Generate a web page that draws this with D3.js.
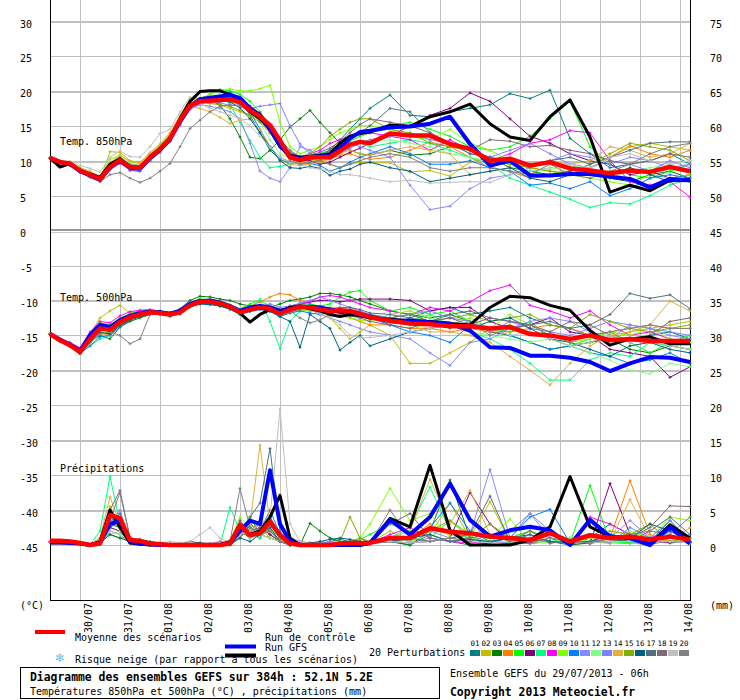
<!DOCTYPE html>
<html>
<head>
<meta charset="utf-8">
<script src="https://cdn.jsdelivr.net/npm/d3@7"></script>
<style>
body { margin: 0; background: #fff; }
text { font-family: "DejaVu Sans Mono", monospace; font-size: 10px; fill: #000; }
</style>
</head>
<body>
<svg id="chart" width="740" height="700"></svg>
<script>
// forecast hours: 6-hourly up to 192h, then 12-hourly
const hours = [0,6,12,18,24,30,36,42,48,54,60,66,72,78,84,90,96,102,108,114,120,126,132,138,144,150,156,162,168,174,180,186,192,
  204,216,228,240,252,264,276,288,300,312,324,336,348,360,372,384];
const dayHours = [18,42,66,90,114,138,162,186,210,234,258,282,306,330,354,378];
const dayLabels = ['30/07','31/07','01/08','02/08','03/08','04/08','05/08','06/08','07/08','08/08','09/08','10/08','11/08','12/08','13/08','14/08'];
const leftTicks = [30,25,20,15,10,5,0,-5,-10,-15,-20,-25,-30,-35,-40,-45];
const rightTicks = [75,70,65,60,55,50,45,40,35,30,25,20,15,10,5,0];
const pertLabels = ['01','02','03','04','05','06','07','08','09','10','11','12','13','14','15','16','17','18','19','20'];
const pertColors = ['#008080','#c0c000','#008000','#ff8000','#00ff00','#800080','#00ff80','#ff00ff','#80ff00','#0080ff',
  '#8888ff','#80ff80','#8080ff','#e0b040','#80b000','#006080','#507080','#806878','#c0c0c0','#808080'];

// Temp. 850hPa (°C)
const t850Mean = [10.4,9.8,9.6,8.6,8.0,7.4,9.1,10.1,9.1,9.0,10.5,11.7,13.2,15.8,17.9,18.5,18.6,18.7,18.8,18.4,17.2,16.3,15.1,12.9,10.5,10.1,10.5,10.5,10.5,11.4,12.3,12.7,12.5,
  13.9,13.6,13.6,12.4,11.7,10.0,10.3,9.3,9.8,8.9,8.6,8.2,8.6,8.4,9.1,8.5];
const t850Ctrl = [10.4,9.8,9.5,8.5,7.9,7.3,9.0,10.0,9.0,8.9,10.4,11.6,13.1,15.6,17.8,18.8,19.0,19.2,19.4,19.0,17.5,16.5,14.5,12.2,10.6,10.3,10.5,10.6,10.7,11.8,13.2,14.1,14.3,
  14.8,14.9,15.3,16.3,12.4,9.3,10.0,7.9,7.9,8.1,8.1,7.7,7.4,6.2,7.4,7.2];
const t850Gfs = [10.4,9.1,9.6,8.6,8.1,7.6,9.5,10.3,9.2,9.0,10.4,11.5,13.0,16.0,18.5,19.9,20.0,20.0,19.5,18.6,17.0,16.0,14.5,12.0,10.8,10.5,10.6,10.8,11.0,12.5,13.5,13.9,14.1,
  15.1,14.9,16.3,17.0,18.1,15.3,13.4,12.9,16.3,18.7,13.4,5.5,6.5,5.7,7.2,7.2];
const t850Pert = [
  [10.4,9.7,9.5,8.5,7.8,7.2,9.5,10.4,9.3,9.2,10.8,12.0,13.6,16.2,18.2,18.8,19.0,19.3,19.5,18.8,16.5,14.0,11.5,10.2,9.6,9.9,10.2,10.0,11.5,13.0,14.5,16.0,17.5,
   19.4,16.5,16.3,17.0,17.5,18.0,19.6,18.9,20.1,13.2,11.0,9.0,9.5,10.0,11.0,9.5],
  [10.4,9.9,9.7,8.8,8.3,7.3,11.3,11.2,10.0,9.8,11.0,12.2,13.8,16.5,18.8,19.0,18.5,18.0,17.5,17.0,16.5,16.0,15.0,13.0,11.0,10.5,10.2,9.8,9.5,9.0,9.5,9.8,9.7,
   9.7,8.4,8.6,7.8,9.8,10.5,9.5,9.0,8.5,8.5,9.5,10.5,12.0,12.5,12.0,11.5],
  [10.4,9.8,9.6,8.7,8.1,7.5,9.0,10.0,9.1,8.8,10.2,11.4,12.9,15.5,17.8,18.6,18.8,18.0,16.0,13.4,10.5,10.3,11.5,13.0,14.8,16.0,17.2,15.5,14.0,12.5,11.5,11.0,10.8,
   11.5,10.8,11.0,12.0,11.5,10.5,9.0,8.5,8.0,8.5,9.0,7.5,7.0,8.0,8.5,7.5],
  [10.4,9.8,9.7,8.9,8.2,7.6,9.4,10.3,9.3,9.2,10.6,11.9,13.5,15.9,17.8,18.4,18.6,18.8,18.5,18.0,17.5,16.0,14.0,12.0,10.5,9.8,9.8,10.0,10.2,10.8,11.0,10.5,10.2,
   10.5,11.5,12.7,12.0,10.5,9.0,8.5,7.5,7.8,8.0,9.0,10.5,12.2,11.0,10.5,11.5],
  [10.4,9.8,9.6,8.6,8.0,7.4,9.3,10.2,9.2,9.1,10.6,11.8,13.3,16.0,18.0,18.8,19.5,20.2,20.0,19.5,18.5,17.0,15.0,12.5,10.8,10.5,10.8,11.0,11.5,12.0,12.8,13.5,14.0,
   15.0,15.5,14.5,13.5,12.0,11.5,12.0,13.5,16.0,18.5,12.0,9.5,8.0,7.5,8.5,9.5],
  [10.4,9.7,9.4,8.4,7.8,7.2,9.0,9.8,8.6,8.5,10.0,11.2,12.8,15.4,17.6,18.4,18.7,19.0,19.3,18.6,17.8,16.8,15.2,13.0,11.0,10.2,10.0,9.5,9.8,10.5,11.2,11.8,12.5,
   13.5,15.0,16.5,17.5,19.7,18.5,16.0,13.5,12.5,11.0,10.0,9.5,8.0,8.5,7.5,8.0],
  [10.4,9.8,9.5,8.5,7.9,7.3,8.9,9.9,8.9,8.8,10.2,11.3,12.8,15.3,17.5,18.3,18.8,19.5,18.0,15.5,12.9,10.5,9.0,9.2,9.5,10.0,10.5,11.0,11.5,12.0,12.5,12.5,12.0,
   12.5,13.0,12.5,11.5,10.5,9.5,7.5,6.5,5.5,4.5,3.3,4.0,3.8,5.0,6.5,7.5],
  [10.4,9.8,9.6,8.7,8.1,7.7,9.4,10.4,9.4,9.3,10.8,12.0,13.5,16.0,18.0,18.7,19.0,19.2,19.5,18.9,17.8,16.5,15.0,12.8,11.0,10.5,11.0,11.5,12.5,13.0,13.5,13.8,14.0,
   13.5,13.0,11.5,13.0,11.5,10.0,11.0,12.5,13.0,14.3,14.0,10.0,7.0,6.5,7.0,4.8],
  [10.4,9.9,9.8,8.9,8.4,7.8,10.2,10.8,9.8,9.6,11.0,12.2,13.8,16.2,18.2,18.9,19.5,20.0,20.3,20.0,20.0,20.3,20.8,15.5,12.0,11.0,11.5,12.0,13.0,14.0,14.5,15.0,15.0,
   14.5,13.5,13.0,14.5,12.5,11.5,10.0,9.0,8.5,8.0,7.5,7.0,6.5,8.0,7.5,8.0],
  [10.4,9.7,9.4,8.4,7.8,7.2,8.8,9.7,8.8,8.7,10.1,11.3,12.8,15.2,17.4,18.2,18.6,19.2,19.8,19.0,17.0,14.5,12.0,10.5,9.8,9.5,9.6,9.3,8.5,9.0,9.8,10.5,11.0,
   12.0,11.0,9.5,9.5,10.0,9.0,8.5,6.5,6.8,6.0,7.0,5.0,6.0,7.5,8.0,7.5],
  [10.4,9.9,9.8,8.9,8.3,7.6,9.2,10.2,9.2,9.0,10.5,11.6,13.0,15.5,17.5,18.0,17.8,17.5,17.0,16.0,12.5,8.5,7.5,7.0,9.0,12.0,11.5,10.5,11.0,12.0,12.5,12.0,11.5,
   10.5,6.5,3.0,3.5,6.0,7.5,8.0,9.0,10.0,11.0,10.5,9.5,10.5,10.0,9.0,9.5],
  [10.4,9.8,9.7,8.8,8.2,7.5,9.6,10.6,9.6,9.4,10.8,12.1,13.6,16.1,18.2,18.6,18.9,19.4,19.0,18.2,17.0,15.5,13.0,11.0,10.3,10.0,10.4,10.8,11.0,11.6,12.0,12.5,12.8,
   13.0,12.5,12.0,11.0,10.5,10.0,9.5,8.5,8.8,9.2,9.0,7.5,8.5,9.0,9.5,10.0],
  [10.4,9.6,9.3,8.3,7.7,7.0,8.7,9.6,8.7,8.6,10.0,11.2,12.7,15.1,17.3,18.1,18.5,18.3,17.9,18.0,17.5,17.8,18.0,18.2,15.0,12.4,11.0,10.5,10.5,11.0,11.8,12.5,13.0,
   13.5,14.0,13.0,12.5,11.0,10.5,11.5,12.5,11.0,9.5,9.0,10.0,9.5,8.5,10.0,9.0],
  [10.4,9.9,9.8,9.0,8.5,7.8,9.8,10.8,9.9,9.7,11.2,12.4,14.0,16.4,17.8,17.5,17.0,16.2,15.3,15.8,16.0,14.5,12.0,10.0,9.5,9.3,9.5,9.8,10.3,11.0,11.5,11.0,10.8,
   11.5,12.0,11.5,11.0,8.0,8.5,9.0,9.5,10.0,9.5,10.0,12.0,11.5,10.5,11.0,12.5],
  [10.4,9.8,9.6,8.7,8.1,7.5,9.3,10.3,9.2,9.0,10.4,11.6,13.1,15.6,17.8,18.4,18.2,18.0,17.8,17.2,16.5,15.5,14.0,12.0,10.8,10.5,11.0,12.0,13.5,14.5,15.5,16.0,16.0,
   14.5,14.0,12.5,12.0,11.5,10.0,9.5,9.0,8.5,8.0,9.5,11.0,12.5,12.0,11.5,10.0],
  [10.4,9.7,9.5,8.5,7.9,7.3,9.0,10.0,9.0,8.9,10.3,11.5,13.0,15.4,17.6,18.4,18.6,18.6,18.4,17.6,16.0,14.0,12.0,10.0,9.0,8.9,9.2,8.9,7.9,8.5,8.8,9.5,9.8,
   9.0,8.5,7.0,7.5,8.0,8.5,9.0,7.5,7.0,8.0,8.5,8.0,9.0,8.0,7.0,7.0],
  [10.4,9.8,9.6,8.6,8.0,7.4,9.1,10.2,9.1,9.0,10.5,11.7,13.2,15.8,17.9,18.6,18.9,19.2,19.0,18.6,17.5,16.2,15.0,13.0,11.5,10.5,10.5,10.8,11.5,12.5,13.5,14.0,15.0,
   17.5,17.0,14.0,12.5,11.0,10.5,10.0,9.5,10.0,10.5,9.5,10.5,11.5,12.5,12.7,12.7],
  [10.4,9.9,9.7,8.8,8.2,7.6,9.4,10.4,9.4,9.3,10.8,11.9,13.4,15.9,17.9,18.5,18.6,18.8,18.7,18.2,17.0,15.8,14.8,12.8,11.2,10.6,10.8,11.2,11.8,12.8,14.0,15.2,16.0,
   15.5,15.0,14.0,12.5,11.5,13.0,12.8,12.0,12.2,11.5,11.0,10.0,9.5,10.0,11.0,10.5],
  [10.4,10.0,9.9,9.3,8.9,8.4,10.5,11.4,10.6,10.5,12.0,13.9,14.5,17.0,19.1,18.2,17.5,17.0,16.5,16.0,15.0,13.5,12.0,10.5,9.8,9.5,9.0,8.8,8.5,8.0,8.0,7.8,7.5,
   7.0,7.2,6.8,6.9,7.0,6.9,8.0,8.5,9.0,9.5,9.0,10.5,11.0,10.0,9.5,10.0],
  [10.4,9.8,9.5,8.4,7.6,7.0,8.0,8.3,7.5,6.9,7.5,8.5,9.6,12.0,14.6,15.8,17.0,17.8,18.0,17.8,17.0,16.0,14.5,12.0,10.0,9.5,9.8,10.0,9.5,9.0,9.5,10.0,10.5,
   11.0,10.5,9.0,8.5,9.0,9.0,8.5,8.0,9.5,8.0,7.5,8.5,9.5,11.0,12.0,12.5]
];

// Temp. 500hPa (°C)
const t500Mean = [-14.8,-15.7,-16.4,-17.4,-15.5,-14.0,-14.2,-13.1,-12.4,-12.0,-11.7,-11.8,-12.0,-11.7,-10.7,-10.2,-10.2,-10.4,-10.9,-11.7,-11.3,-11.0,-11.2,-11.9,-11.3,-10.9,-11.0,-11.3,-11.5,-11.4,-11.5,-11.9,-12.4,
  -12.9,-13.3,-13.4,-13.7,-13.7,-14.0,-13.8,-14.8,-15.0,-15.5,-15.0,-15.7,-15.5,-15.8,-15.8,-15.8];
const t500Ctrl = [-14.8,-15.6,-16.3,-17.2,-15.0,-13.5,-13.8,-12.8,-12.2,-11.8,-11.6,-11.7,-11.9,-11.5,-10.5,-10.1,-10.0,-10.3,-10.8,-11.5,-11.0,-10.8,-11.0,-11.5,-11.2,-10.9,-10.9,-11.0,-11.3,-11.6,-11.6,-12.0,-12.3,
  -12.9,-12.9,-13.1,-13.3,-14.3,-16.7,-16.8,-17.9,-17.9,-18.2,-18.8,-20.1,-19.0,-18.1,-18.2,-18.8];
const t500Gfs = [-14.8,-15.7,-16.3,-17.3,-15.4,-14.0,-14.0,-13.0,-12.3,-11.8,-11.6,-11.7,-11.9,-11.5,-10.5,-10.0,-10.2,-10.5,-11.0,-11.8,-13.1,-12.0,-11.3,-11.5,-11.0,-10.8,-11.2,-11.5,-12.0,-12.3,-12.0,-12.2,-12.5,
  -12.7,-12.9,-13.0,-13.3,-13.5,-11.0,-9.4,-9.6,-10.7,-11.4,-14.3,-16.4,-15.5,-15.2,-16.2,-16.2];
const t500Pert = [
  [-14.8,-15.6,-16.3,-17.3,-15.2,-13.6,-13.9,-12.8,-12.2,-11.8,-11.6,-11.7,-11.9,-11.5,-10.5,-10.0,-10.1,-10.5,-11.2,-12.0,-11.5,-11.0,-11.4,-12.2,-11.5,-11.0,-11.2,-11.5,-11.8,-11.5,-11.4,-11.8,-12.1,
   -13.5,-12.5,-11.5,-11.0,-12.0,-11.5,-11.0,-12.5,-13.5,-14.0,-15.0,-14.5,-16.0,-15.0,-14.5,-15.5],
  [-14.8,-15.7,-16.5,-17.5,-14.8,-12.5,-11.5,-10.7,-11.8,-11.5,-11.6,-11.8,-12.1,-11.9,-10.9,-10.4,-10.3,-10.5,-11.0,-11.6,-11.2,-11.0,-11.2,-12.0,-11.6,-11.3,-11.5,-11.2,-12.5,-14.0,-15.5,-14.5,-13.5,
   -15.0,-19.0,-19.0,-17.5,-16.0,-14.0,-13.5,-14.5,-15.5,-16.5,-16.0,-15.5,-14.5,-14.0,-13.5,-13.0],
  [-14.8,-15.7,-16.4,-17.4,-16.0,-15.0,-15.5,-13.8,-13.0,-12.5,-12.0,-12.0,-11.8,-11.2,-10.0,-9.4,-9.5,-9.8,-10.0,-10.5,-10.8,-10.9,-11.0,-10.5,-10.0,-9.8,-9.5,-9.0,-9.0,-9.2,-9.5,-10.0,-10.5,
   -11.5,-12.0,-12.5,-12.0,-13.0,-14.5,-15.0,-16.0,-17.0,-16.5,-16.0,-15.5,-17.0,-17.5,-16.5,-17.0],
  [-14.8,-15.7,-16.4,-17.3,-15.6,-14.2,-14.4,-13.3,-12.5,-12.1,-11.8,-11.9,-12.1,-11.6,-10.6,-10.1,-10.2,-10.5,-11.0,-11.5,-10.8,-10.2,-9.5,-9.0,-9.2,-10.0,-10.5,-11.0,-11.5,-12.0,-12.5,-13.0,-13.5,
   -13.5,-14.0,-14.0,-14.5,-14.0,-14.5,-14.5,-14.0,-13.5,-14.0,-15.0,-14.5,-14.0,-13.5,-14.0,-14.0],
  [-14.8,-15.6,-16.2,-17.1,-14.8,-13.2,-13.5,-12.5,-11.9,-11.6,-11.4,-11.5,-11.7,-11.3,-10.3,-9.8,-9.9,-10.1,-10.6,-11.2,-10.5,-10.0,-10.8,-11.2,-11.0,-10.5,-10.5,-10.8,-10.5,-9.5,-8.8,-8.6,-10.0,
   -11.5,-11.0,-12.0,-11.5,-13.0,-14.0,-14.5,-13.0,-15.5,-16.5,-15.5,-14.5,-16.0,-17.5,-16.0,-15.0],
  [-14.8,-15.7,-16.4,-17.5,-15.8,-14.5,-14.8,-13.4,-12.5,-12.0,-11.6,-11.8,-12.1,-11.8,-10.8,-10.3,-10.3,-10.6,-11.0,-11.7,-11.2,-10.8,-11.0,-11.5,-10.8,-10.5,-10.2,-10.0,-10.0,-10.2,-10.0,-9.8,-9.8,
   -9.8,-10.0,-11.5,-11.0,-11.0,-13.0,-14.0,-13.5,-12.5,-14.5,-15.0,-17.0,-17.5,-18.0,-21.0,-19.5],
  [-14.8,-15.8,-16.6,-17.5,-16.5,-15.5,-15.0,-13.5,-12.6,-12.1,-11.8,-11.9,-12.2,-11.8,-10.8,-10.3,-10.4,-10.8,-11.3,-12.0,-11.5,-9.8,-13.0,-16.9,-13.0,-11.5,-11.2,-11.5,-11.0,-11.2,-11.5,-11.8,-12.0,
   -12.5,-13.0,-12.0,-13.5,-14.5,-15.5,-17.0,-19.0,-21.4,-21.4,-18.5,-17.5,-18.0,-16.0,-16.5,-17.0],
  [-14.8,-15.5,-16.0,-16.8,-14.5,-13.0,-13.2,-12.2,-11.6,-11.4,-11.3,-11.5,-11.8,-11.4,-10.4,-10.0,-10.1,-10.3,-10.8,-11.4,-11.0,-10.8,-11.0,-11.6,-11.0,-10.5,-10.2,-9.5,-9.3,-9.5,-10.0,-10.5,-11.0,
   -11.5,-12.0,-11.0,-11.5,-10.2,-8.6,-7.8,-10.7,-11.5,-12.5,-11.5,-13.5,-15.0,-14.5,-15.5,-16.0],
  [-14.8,-15.7,-16.5,-17.5,-15.9,-14.5,-14.6,-13.4,-12.6,-12.2,-11.9,-12.0,-12.2,-11.9,-10.9,-10.4,-10.4,-10.6,-11.1,-11.8,-11.5,-11.2,-11.5,-12.2,-11.8,-11.4,-11.5,-11.8,-12.0,-12.2,-12.5,-12.8,-13.0,
   -12.0,-11.5,-12.5,-13.5,-12.5,-14.0,-12.0,-13.5,-14.5,-16.0,-15.5,-14.5,-15.0,-14.0,-15.5,-16.0],
  [-14.8,-15.8,-16.6,-17.6,-16.5,-15.2,-15.0,-13.8,-12.8,-12.3,-12.0,-12.0,-12.2,-11.9,-10.9,-10.5,-10.5,-10.8,-11.2,-11.9,-11.6,-11.3,-11.6,-12.3,-11.8,-11.5,-11.8,-12.0,-11.5,-11.8,-12.2,-12.0,-12.5,
   -13.5,-14.5,-15.0,-16.0,-13.5,-14.0,-15.0,-16.0,-17.0,-16.5,-17.5,-18.0,-19.0,-18.5,-17.5,-19.0],
  [-14.8,-15.6,-16.3,-17.3,-15.3,-13.8,-14.0,-13.0,-12.3,-11.9,-11.6,-11.7,-11.9,-11.5,-10.6,-10.1,-10.2,-10.4,-10.9,-11.6,-11.2,-10.9,-11.2,-11.8,-11.2,-10.8,-11.2,-12.0,-12.5,-13.0,-13.5,-14.0,-14.5,
   -15.0,-15.5,-17.5,-19.3,-16.0,-15.5,-14.0,-13.0,-12.5,-13.0,-14.5,-15.5,-13.5,-14.0,-15.0,-15.5],
  [-14.8,-15.7,-16.4,-17.3,-15.4,-13.9,-14.1,-13.0,-12.3,-11.9,-11.6,-11.7,-11.9,-11.6,-10.6,-10.1,-10.1,-10.3,-10.8,-11.6,-11.2,-10.9,-11.1,-11.8,-11.2,-10.9,-11.0,-11.2,-11.4,-11.3,-11.4,-11.8,-12.3,
   -13.0,-13.5,-14.0,-13.5,-14.5,-15.0,-15.5,-16.0,-15.5,-16.5,-17.5,-18.5,-20.0,-20.5,-19.0,-19.5],
  [-14.8,-15.7,-16.4,-17.4,-15.7,-14.2,-14.3,-13.2,-12.4,-12.0,-11.7,-11.8,-12.0,-11.6,-10.6,-10.1,-10.1,-10.3,-10.8,-11.5,-11.2,-10.8,-10.5,-11.0,-10.8,-10.4,-10.0,-9.5,-10.0,-10.5,-11.0,-11.5,-12.0,
   -12.5,-12.0,-11.5,-12.5,-13.0,-14.5,-13.0,-14.0,-14.5,-15.0,-14.0,-13.0,-13.5,-14.0,-14.5,-15.0],
  [-14.8,-15.8,-16.6,-17.6,-16.2,-14.8,-14.9,-13.6,-12.7,-12.2,-11.9,-12.0,-12.2,-11.8,-10.8,-10.3,-10.3,-10.5,-11.0,-11.7,-11.3,-11.0,-11.3,-12.0,-11.6,-11.2,-11.4,-11.6,-11.8,-11.7,-11.8,-12.2,-12.7,
   -13.0,-13.5,-14.5,-14.5,-15.0,-16.0,-18.0,-20.0,-22.1,-19.0,-16.5,-15.0,-14.5,-13.5,-10.1,-11.5],
  [-14.8,-15.6,-16.2,-17.2,-15.0,-13.4,-13.7,-12.7,-12.0,-11.7,-11.5,-11.6,-11.8,-11.4,-10.4,-9.9,-10.0,-10.2,-10.7,-11.4,-11.0,-10.7,-11.0,-11.5,-11.0,-10.6,-10.8,-11.0,-11.2,-11.5,-11.8,-12.0,-12.3,
   -12.5,-12.0,-13.0,-12.5,-12.0,-13.0,-12.5,-12.0,-13.5,-14.0,-12.0,-13.0,-14.0,-14.5,-14.0,-13.5],
  [-14.8,-15.7,-16.5,-17.6,-16.0,-14.6,-14.8,-13.6,-12.8,-12.3,-12.0,-12.0,-12.2,-11.9,-10.9,-10.5,-10.6,-10.8,-11.2,-11.9,-11.4,-11.2,-11.5,-12.3,-13.0,-16.7,-12.0,-13.0,-14.0,-17.1,-16.0,-15.0,-16.5,
   -15.5,-14.5,-14.0,-13.5,-14.0,-13.0,-12.5,-14.0,-15.5,-16.0,-17.0,-18.0,-16.5,-16.0,-17.0,-17.5],
  [-14.8,-15.6,-16.3,-17.2,-15.1,-13.5,-13.8,-12.9,-12.2,-11.8,-11.5,-11.6,-11.8,-11.4,-10.5,-10.0,-10.1,-10.3,-10.8,-11.5,-11.0,-10.7,-11.0,-11.6,-11.0,-10.7,-10.8,-11.0,-11.2,-11.0,-11.0,-11.3,-11.8,
   -12.0,-12.5,-13.0,-12.0,-11.5,-12.5,-13.0,-13.5,-13.0,-14.0,-13.5,-12.0,-9.0,-9.7,-9.2,-11.2],
  [-14.8,-15.7,-16.4,-17.3,-15.5,-14.0,-14.0,-13.0,-12.3,-11.9,-11.6,-11.8,-12.1,-11.7,-10.7,-10.2,-10.2,-10.4,-10.9,-11.6,-11.4,-11.2,-11.4,-12.0,-11.7,-11.2,-11.0,-11.2,-11.6,-11.8,-12.2,-12.5,-13.0,
   -13.5,-14.0,-13.0,-12.5,-13.5,-12.5,-13.0,-13.5,-14.5,-13.0,-13.5,-15.0,-16.0,-15.0,-13.0,-12.5],
  [-14.8,-15.7,-16.4,-17.3,-15.5,-14.1,-14.3,-13.2,-12.4,-12.0,-11.7,-11.8,-12.0,-11.6,-10.7,-10.2,-10.2,-10.4,-10.9,-11.6,-11.3,-11.0,-11.2,-11.9,-11.3,-11.0,-11.3,-11.8,-12.5,-13.5,-15.0,-15.3,-15.3,
   -15.0,-14.5,-14.0,-13.5,-13.0,-14.0,-15.0,-14.5,-15.5,-16.5,-16.0,-15.0,-16.0,-15.5,-16.5,-17.0],
  [-14.8,-15.6,-16.3,-17.3,-16.0,-14.8,-14.5,-15.0,-16.2,-15.5,-12.0,-11.9,-12.3,-11.9,-10.8,-10.3,-10.2,-10.5,-11.0,-11.7,-11.3,-11.1,-11.3,-12.0,-11.5,-12.5,-13.2,-12.8,-12.0,-11.5,-11.5,-12.0,-12.2,
   -12.5,-12.0,-13.0,-14.0,-13.0,-15.0,-14.0,-13.5,-15.0,-16.0,-15.0,-14.5,-14.0,-13.5,-14.0,-14.0]
];

// Précipitations (mm)
const precMean = [0.6,0.6,0.5,0.3,0,0.2,4.3,3.8,0.7,0.6,0.2,0.1,0,0,0,0,0,0,0.2,2.9,1.4,1.7,3.3,1.4,0.2,0,0,0,0,0.2,0.3,0.3,0.3,
  1.0,1.0,2.4,1.9,1.7,1.2,1.0,0.7,1.7,0.5,1.4,1.0,1.2,0.8,1.2,0.8];
const precCtrl = [0.4,0.4,0.3,0.2,0,0.3,3.0,3.5,0.5,0.2,0.1,0,0,0,0,0,0,0,0.3,2.0,3.5,3.0,10.7,3.0,0.5,0,0,0,0,0,0,0,0.3,
  3.6,1.5,4.0,8.8,3.6,1.2,2.1,2.6,2.1,0,3.6,1.2,1.0,0,2.6,0.2];
const precGfs = [0.3,0.3,0.3,0.2,0,0.5,5.0,2.5,0.3,0.1,0,0,0,0,0,0,0,0,0.5,2.5,1.5,2.0,4.0,7.1,1.0,0,0,0,0,0,0,0,0.2,
  3.8,2.6,11.4,2.1,0,0,0,0.7,2.6,9.8,2.6,1.2,1.0,0.2,2.9,1.0];
const precPert = [
  [0.5,0.5,0.4,0.2,0,0.5,4.0,3.0,0.5,0.3,0.2,0,0,0,0,0,0,0,0.2,1.5,2.0,1.0,3.5,1.0,0.2,0,0,0.2,0.5,0.8,0.5,1.0,0.3,
   0.5,0,1.5,0.5,0,0.3,1.0,2.0,0.5,0,1.0,3.0,1.5,0.5,3.5,0.5],
  [0.5,0.5,0.4,0.3,0,0.3,5.5,2.0,0.3,0.2,0,0,0,0,0,0,0,0,0.5,3.5,1.5,2.5,1.0,0.5,0,0,0,0,0,0,0,0.2,0.3,
   2.0,0.5,1.5,6.0,1.0,6.2,0.5,0.3,2.0,0,0.5,1.0,0.3,0,1.0,0.5],
  [0.5,0.4,0.3,0.2,0,0.2,3.0,2.5,0.3,0.1,0,0,0,0,0,0,0,0,0,1.0,3.0,2.0,4.0,1.5,0,0,3.1,2.0,1.0,0.5,0.3,0.5,0.2,
   0.5,0,2.0,9.3,1.0,0,0.2,0.5,1.0,0,0.3,0.5,0.8,0.2,0.5,0.3],
  [0.5,0.5,0.4,0.3,0,0.5,3.5,2.5,0.4,0.2,0,0,0,0,0,0,0,0.5,0.3,1.0,2.5,3.0,1.5,0.5,0,0,0,0,0,0.3,0.5,0.2,0.3,
   0.5,1.0,3.0,1.5,1.0,0.5,0.3,0.2,0.5,0.3,0.5,1.0,9.2,1.5,0.5,0.3],
  [0.5,0.5,0.4,0.2,0,1.0,1.5,1.0,1.2,0.5,0.2,0,0,0,0,0,0,0,0.5,2.0,4.0,1.5,1.0,0.5,0,0,0,0,0,0.3,0.5,0.8,1.5,
   3.0,2.0,1.0,3.5,1.5,1.0,1.0,2.0,0.5,0.3,8.5,0.5,0.3,1.0,0.5,0.3],
  [0.4,0.4,0.3,0.2,0,0.3,2.5,2.0,0.3,0.1,0,0,0,0,0,0,0,0,0.3,2.0,1.0,2.5,1.5,0.5,0,0,0,0,0,0,0.2,0.3,0.3,
   0.5,1.0,0.5,1.0,7.5,3.0,0.5,1.0,0.3,0.5,0.2,8.8,1.5,0.5,0.3,0.5],
  [0.5,0.5,0.4,0.2,0,2.0,9.8,3.0,0.5,0.2,0,0,0,0,0,0,0,0,5.4,2.0,1.5,1.0,2.5,1.0,0,0,0,0,0,0,0,0.2,0.3,
   1.0,2.5,8.3,2.0,1.0,0.5,0.3,0.2,0.5,1.0,0.5,0.3,0.2,1.0,0.5,0.3],
  [0.4,0.4,0.3,0.2,0,0.5,3.5,4.0,0.5,0.3,0,0,0,0,0,0,0,0,0.5,3.0,2.0,1.5,1.0,0.5,0,0,0,0,0,0,0,0.2,0.3,
   1.5,2.5,1.0,0.5,0.3,0.5,0.2,0.3,0.5,0.2,4.0,3.0,1.5,1.0,2.0,0.5],
  [0.5,0.6,0.5,0.3,0,0.2,1.5,1.0,0.5,0.3,0.3,0.2,0,0,0,0,0,0,0.5,4.0,2.5,2.0,3.0,1.5,0.3,0,0,0,0,0.2,0.5,1.0,3.0,
   8.1,3.5,4.5,1.0,0.5,1.0,3.7,0.5,0.3,1.0,0.5,0.2,2.0,1.0,4.0,3.5],
  [0.5,0.5,0.4,0.2,0,0.5,2.5,3.5,0.5,0.2,0,0,0,0,0,0,0,0,0.3,3.0,2.5,2.0,5.0,1.5,0.2,0,0,0,0,0,0,0,0.2,
   1.0,0.5,2.5,6.0,2.0,0.5,1.0,4.0,5.1,0.3,0.5,1.0,0.5,0.3,2.0,1.0],
  [0.4,0.4,0.3,0.2,0,0.3,3.0,5.0,0.5,0.3,0.1,0,0,0,0,0,0.2,0.5,0.3,2.0,1.5,3.0,2.0,0.8,1.0,0.5,0.3,0.2,0.5,0.3,0.2,0.3,0.3,
   0.5,1.0,2.0,1.0,1.5,10.8,1.0,4.5,1.0,0.5,0.3,1.0,3.5,1.0,3.5,0.5],
  [0.5,0.5,0.4,0.3,0,0.5,1.5,2.0,0.4,0.2,0,0,0,0,0,0,0,0,0.3,2.5,1.0,1.5,1.0,0.5,0,0,0,0,0,0,0,0.2,0.3,
   1.0,0.5,1.5,0.5,1.0,0.5,2.0,0.5,0.3,1.0,0.5,1.5,2.0,0.5,3.0,1.0],
  [0.5,0.4,0.3,0.2,0,0.3,4.5,4.0,0.5,0.3,0.1,0,0,0,0,0,0,0,0.2,1.5,3.0,2.0,3.5,1.0,0.2,0,0,0.5,0.3,0.2,0.5,0.3,0.2,
   0.5,0.3,1.0,0.5,1.0,1.5,2.0,4.5,2.0,0.5,1.0,0.3,2.5,1.0,0.5,0.3],
  [0.5,0.5,0.4,0.2,0,1.0,6.9,3.0,0.5,0.2,0,0,0,0,0,0,0,0,0.5,1.5,3.0,14.3,3.0,1.0,0.2,0,0,0,0,0,0.2,0.3,0.5,
   1.0,2.0,9.4,3.0,7.8,1.5,0.5,1.0,0.3,0.5,1.0,0.5,6.5,1.0,0.5,2.5],
  [0.5,0.5,0.4,0.3,0,0.3,2.0,1.5,0.3,0.2,0,0,0,0,0,0,0,0,0.3,2.5,2.0,3.5,2.0,0.8,0.3,0,0,0,0,0.5,4.0,1.0,0.5,
   0.5,1.0,2.0,3.5,1.0,3.0,1.0,0.5,1.5,0.5,0.3,2.0,1.5,3.0,0.5,1.0],
  [0.5,0.5,0.4,0.3,0,0.3,1.5,1.0,0.5,0.8,0.5,0.3,0.2,0.2,0.5,0.3,0.2,0,0.3,1.0,0.5,1.5,2.5,0.5,0.2,0.2,0.3,0.5,0.8,1.0,0.8,0.5,0.3,
   0.5,1.0,1.5,0.5,0.8,0.5,1.0,1.5,0.5,0.3,0.5,1.5,1.0,3.0,2.0,0.5],
  [0.5,0.5,0.4,0.2,0,0.5,3.0,4.5,0.5,0.2,0,0,0,0,0,0,0,0,0.2,2.0,4.0,6.0,13.8,2.0,0.2,0,0,0,0,0,0,0.2,0.3,
   0.5,0.3,0.5,1.0,1.5,7.0,0.5,1.5,0.3,0.5,0.2,1.0,0.5,2.0,4.0,1.5],
  [0.5,0.5,0.4,0.2,0,0.5,5.0,7.8,1.0,0.3,0.1,0,0,0,0,0,0,0,0.3,3.5,2.0,2.5,2.0,0.5,0,0,0,0,0,0,0,0.2,0.3,
   3.0,4.5,1.0,0.5,1.0,1.5,0.5,0.3,1.0,0.5,0.3,0.5,1.0,2.5,5.6,5.5],
  [0.5,0.5,0.4,0.3,0,0.3,2.0,1.5,0.5,0.3,0.2,0.3,0.5,0.3,0.5,1.5,2.5,1.0,0.3,1.5,2.0,3.0,4.0,19.5,3.0,0.5,0.2,0,0,0,0,0.2,0.3,
   0.5,0.3,0.5,1.0,0.5,0.3,0.5,0.8,1.0,0.5,0.3,0.5,0.5,0.3,0.5,0.3],
  [0.5,0.6,0.5,0.3,0,0.3,3.5,7.5,1.0,0.5,0.2,0,0,0,0,0,0,0,0.5,8.1,2.5,1.5,2.0,0.5,0,0,0,0,0,0,0,0.2,0.3,
   5.0,1.0,0.5,1.0,0.5,1.5,0.5,2.0,1.0,0.5,0.3,1.0,1.5,2.0,1.5,4.0]
];

const svg = d3.select('#chart');

const x = d3.scaleLinear().domain([0, 384]).range([50, 690]);
const y = d3.scaleLinear().domain([30, -45]).range([21, 545]);     // °C, left
const yR = d3.scaleLinear().domain([75, 0]).range([21, 545]);      // right labels / mm

// grid
const grid = svg.append('g').attr('shape-rendering', 'crispEdges');
grid.selectAll('line.v').data(dayHours).join('line')
  .attr('class', 'v')
  .attr('x1', d => Math.round(x(d)) + 0.5).attr('x2', d => Math.round(x(d)) + 0.5)
  .attr('y1', 0).attr('y2', 600)
  .attr('stroke', '#c0c0c0');
grid.selectAll('line.h').data(leftTicks.filter(v => v !== 0)).join('line')
  .attr('class', 'h')
  .attr('x1', 50).attr('x2', 690)
  .attr('y1', d => Math.round(y(d)) + 0.5).attr('y2', d => Math.round(y(d)) + 0.5)
  .attr('stroke', '#c0c0c0')
  .attr('stroke-width', d => d % 10 === 0 ? 2 : 1);
// separator at 0
grid.append('line').attr('x1', 50).attr('x2', 690)
  .attr('y1', Math.round(y(0)) - 1).attr('y2', Math.round(y(0)) - 1)
  .attr('stroke', '#989898').attr('stroke-width', 2);
grid.append('line').attr('x1', 50).attr('x2', 690)
  .attr('y1', Math.round(y(0)) + 1.5).attr('y2', Math.round(y(0)) + 1.5)
  .attr('stroke', '#c8c8c8').attr('stroke-width', 1);

// axes labels
const axL = svg.append('g').attr('transform', 'translate(50,0)')
  .call(d3.axisLeft(y).tickValues(leftTicks).tickSize(0).tickFormat(d => String(d)));
axL.select('.domain').remove();
axL.selectAll('text').attr('x', -30).attr('dy', null).attr('y', 6).attr('text-anchor', 'start');

const axR = svg.append('g').attr('transform', 'translate(690,0)')
  .call(d3.axisRight(yR).tickValues(rightTicks).tickSize(0).tickFormat(d => String(d)));
axR.select('.domain').remove();
axR.selectAll('text').attr('x', 20).attr('dy', null).attr('y', 6).attr('text-anchor', 'start');

const axB = svg.append('g').attr('transform', 'translate(0,600)')
  .call(d3.axisBottom(x).tickValues(dayHours).tickSize(0).tickFormat((d, i) => dayLabels[i]));
axB.select('.domain').remove();
axB.selectAll('text')
  .attr('x', 0).attr('y', 0).attr('dy', null)
  .attr('text-anchor', 'end')
  .attr('transform', 'translate(11,3) rotate(-90)');

// frame
const frame = svg.append('g').attr('shape-rendering', 'crispEdges').attr('stroke', '#000');
frame.append('line').attr('x1', 50.5).attr('x2', 50.5).attr('y1', 0).attr('y2', 601);
frame.append('line').attr('x1', 690.5).attr('x2', 690.5).attr('y1', 0).attr('y2', 601);
frame.append('line').attr('x1', 50).attr('x2', 691).attr('y1', 600.5).attr('y2', 600.5);

// series
const plot = svg.append('g');

function drawSeries(values, ys, color, width, withMarks) {
  const line = d3.line().x((d, i) => x(hours[i])).y(d => ys(d));
  plot.append('path').datum(values)
    .attr('d', line)
    .attr('fill', 'none')
    .attr('stroke', color)
    .attr('stroke-width', width)
    .attr('stroke-linejoin', 'round');
  if (withMarks) {
    plot.append('g').selectAll('path').data(values).join('path')
      .attr('d', (d, i) => {
        const px = x(hours[i]), py = ys(d);
        return `M${px - 1.5},${py}h3M${px},${py - 1.5}v3`;
      })
      .attr('stroke', color)
      .attr('stroke-width', 1);
  }
}

t850Pert.forEach((s, k) => drawSeries(s, y, pertColors[k], 1, true));
t500Pert.forEach((s, k) => drawSeries(s, y, pertColors[k], 1, true));
precPert.forEach((s, k) => drawSeries(s, yR, pertColors[k], 1, true));

drawSeries(t850Gfs, y, '#000', 3, false);
drawSeries(t500Gfs, y, '#000', 3, false);
drawSeries(precGfs, yR, '#000', 3, false);

drawSeries(t850Ctrl, y, '#0000ff', 4, false);
drawSeries(t500Ctrl, y, '#0000ff', 4, false);
drawSeries(precCtrl, yR, '#0000ff', 4, false);

drawSeries(t850Mean, y, '#ff0000', 4.5, false);
drawSeries(t500Mean, y, '#ff0000', 4.5, false);
drawSeries(precMean, yR, '#ff0000', 4.5, false);

// panel labels
svg.append('text').attr('x', 60).attr('y', 145).text('Temp. 850hPa');
svg.append('text').attr('x', 60).attr('y', 301).text('Temp. 500hPa');
svg.append('text').attr('x', 60).attr('y', 472).text('Précipitations');

// units
svg.append('text').attr('x', 20).attr('y', 609).text('(°C)');
svg.append('text').attr('x', 710).attr('y', 609).text('(mm)');

// legend
const leg = svg.append('g');
leg.append('line').attr('x1', 35).attr('x2', 65).attr('y1', 632).attr('y2', 632).attr('stroke', '#ff0000').attr('stroke-width', 4);
leg.append('text').attr('x', 75).attr('y', 641).text('Moyenne des scénarios');
leg.append('line').attr('x1', 225).attr('x2', 256).attr('y1', 646.5).attr('y2', 646.5).attr('stroke', '#0000ff').attr('stroke-width', 4);
leg.append('text').attr('x', 265).attr('y', 641).text('Run de contrôle');
leg.append('line').attr('x1', 225).attr('x2', 256).attr('y1', 655.5).attr('y2', 655.5).attr('stroke', '#000').attr('stroke-width', 4);
leg.append('text').attr('x', 265).attr('y', 651).text('Run GFS');
leg.append('text').attr('x', 60).attr('y', 662).attr('text-anchor', 'middle')
  .style('font-family', '"DejaVu Sans", sans-serif').style('font-size', '12px').style('fill', '#6ab8f0').text('❄');
leg.append('text').attr('x', 75).attr('y', 663).text('Risque neige (par rapport a tous les scénarios)');

leg.append('text').attr('x', 369).attr('y', 656).text('20 Perturbations');
const sw = leg.append('g').attr('shape-rendering', 'crispEdges');
sw.selectAll('rect').data(pertColors).join('rect')
  .attr('x', (d, i) => 470 + i * 11).attr('y', 650)
  .attr('width', 10).attr('height', 6)
  .attr('fill', d => d);
sw.selectAll('text').data(pertLabels).join('text')
  .attr('x', (d, i) => 475 + i * 11).attr('y', 645.5)
  .attr('text-anchor', 'middle')
  .style('font-size', '7.5px')
  .text(d => d);

// title box
svg.append('rect').attr('x', 20.5).attr('y', 667.5).attr('width', 419).attr('height', 31)
  .attr('fill', 'none').attr('stroke', '#000').attr('shape-rendering', 'crispEdges');
svg.append('text').attr('x', 30).attr('y', 681).style('font-weight', 'bold').style('font-size', '11.4px')
  .text('Diagramme des ensembles GEFS sur 384h : 52.1N 5.2E');
svg.append('text').attr('x', 30).attr('y', 695)
  .text('Températures 850hPa et 500hPa (°C) , précipitations (mm)');
svg.append('text').attr('x', 450).attr('y', 677).text('Ensemble GEFS du 29/07/2013 - 06h');
svg.append('text').attr('x', 450).attr('y', 696).style('font-weight', 'bold').style('font-size', '11.4px')
  .text('Copyright 2013 Meteociel.fr');
</script>
</body>
</html>
